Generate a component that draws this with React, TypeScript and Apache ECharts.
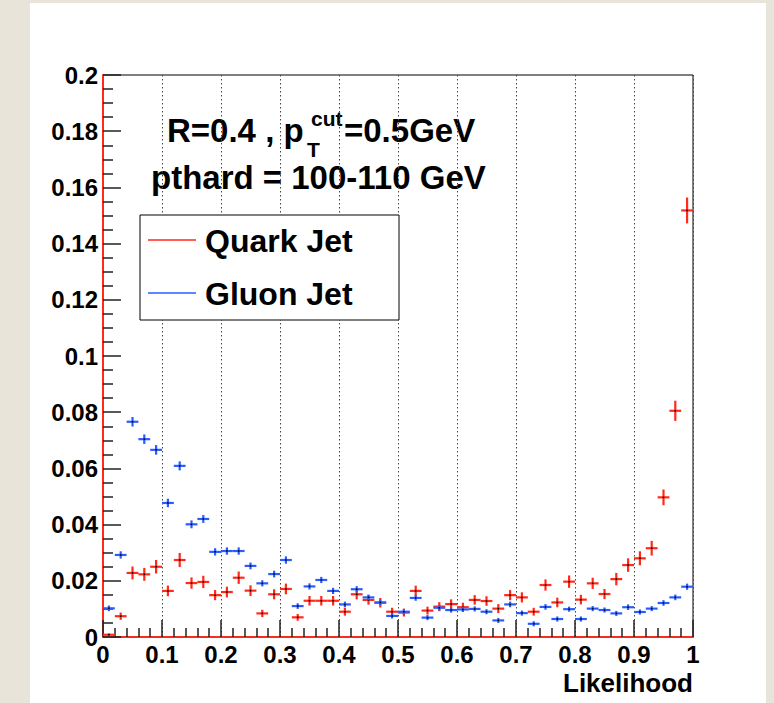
import React, { useEffect, useRef } from "react";
import * as echarts from "echarts";

// Histogram binning: 50 bins on [0, 1]
const BIN_LO = 0;
const BIN_HI = 1;
const BIN_COUNT = 50;

// Normalised histogram contents
const quarkValues = [
  0.0008, 0.0074, 0.0228, 0.0223, 0.025, 0.0164, 0.0274, 0.0192, 0.0196, 0.0149,
  0.016, 0.0211, 0.0165, 0.0084, 0.0152, 0.0171, 0.007, 0.0129, 0.0129, 0.0129,
  0.009, 0.0152, 0.0132, 0.0122, 0.009, 0.0087, 0.0164, 0.0094, 0.0108, 0.0117,
  0.0106, 0.0132, 0.0128, 0.0101, 0.0149, 0.0141, 0.009, 0.0185, 0.0123, 0.0197,
  0.0133, 0.0191, 0.0153, 0.0206, 0.0256, 0.028, 0.0316, 0.0497, 0.0805, 0.1518,
];
const quarkErrors = [
  0.0005, 0.0013, 0.0023, 0.0023, 0.0024, 0.0019, 0.0025, 0.002, 0.0022, 0.0018,
  0.0019, 0.0022, 0.0019, 0.0013, 0.0018, 0.0019, 0.0012, 0.0017, 0.0017, 0.0017,
  0.0014, 0.0018, 0.0017, 0.0017, 0.0014, 0.0014, 0.0019, 0.0014, 0.0016, 0.0017,
  0.0016, 0.0017, 0.0017, 0.0016, 0.0018, 0.0018, 0.0014, 0.002, 0.0017, 0.0022,
  0.0017, 0.002, 0.0018, 0.0022, 0.0024, 0.0025, 0.0026, 0.0028, 0.0036, 0.0046,
];
const gluonValues = [
  0.0102, 0.0292, 0.0766, 0.0704, 0.0666, 0.0477, 0.0609, 0.0401, 0.042, 0.0303,
  0.0306, 0.0306, 0.0253, 0.0191, 0.0224, 0.0274, 0.011, 0.018, 0.0203, 0.0164,
  0.0116, 0.017, 0.0141, 0.0123, 0.0075, 0.009, 0.0139, 0.0069, 0.0104, 0.0096,
  0.0098, 0.01, 0.009, 0.0059, 0.0116, 0.0085, 0.0047, 0.0107, 0.0064, 0.0099,
  0.0064, 0.0101, 0.0096, 0.0084, 0.0106, 0.0089, 0.0101, 0.0121, 0.0141, 0.0179,
];
const gluonErrors = [
  0.001, 0.0013, 0.0017, 0.0017, 0.0017, 0.0015, 0.0016, 0.0014, 0.0014, 0.0013,
  0.0013, 0.0013, 0.0012, 0.0011, 0.0012, 0.0013, 0.001, 0.0011, 0.0011, 0.0011,
  0.001, 0.0011, 0.001, 0.001, 0.0009, 0.0009, 0.001, 0.0009, 0.001, 0.0009,
  0.0009, 0.0009, 0.0009, 0.0009, 0.001, 0.0009, 0.0009, 0.001, 0.0009, 0.0009,
  0.0009, 0.0009, 0.0009, 0.0009, 0.001, 0.0009, 0.0009, 0.001, 0.001, 0.0011,
];

const xTicks = { min: 0, max: 1, interval: 0.1 };
const yTicks = { min: 0, max: 0.2, interval: 0.02 };

const seriesNames = ["Quark Jet", "Gluon Jet"];
const RED = "#ff2a1a";
const BLUE = "#2a5cff";
const FONT = "'Liberation Sans', Arial, Helvetica, sans-serif";

const binWidth = (BIN_HI - BIN_LO) / BIN_COUNT;

function toData(values: number[], errors: number[]) {
  return values.map((v, i) => [BIN_LO + (i + 0.5) * binWidth, v, errors[i]]);
}

function crossRenderer(color: string) {
  return (_params: any, api: any) => {
    const x = api.value(0);
    const y = api.value(1);
    const e = api.value(2);
    const l = api.coord([x - binWidth / 2, y]);
    const r = api.coord([x + binWidth / 2, y]);
    const t = api.coord([x, y + e]);
    const b = api.coord([x, y - e]);
    const c = api.coord([x, y]);
    return {
      type: "group",
      children: [
        { type: "line", shape: { x1: l[0], y1: l[1], x2: r[0], y2: r[1] }, style: { stroke: color, lineWidth: 2.2 } },
        { type: "line", shape: { x1: t[0], y1: t[1], x2: b[0], y2: b[1] }, style: { stroke: color, lineWidth: 2.2 } },
        { type: "rect", shape: { x: c[0] - 0.75, y: c[1] - 0.75, width: 1.5, height: 1.5 }, style: { fill: "#000" } },
      ],
    };
  };
}

const fmt = (v: number) => String(+v.toFixed(3));

export default function App() {
  const ref = useRef<HTMLDivElement>(null);
  useEffect(() => {
    if (!ref.current) return;
    const chart = echarts.init(ref.current, undefined, { renderer: "svg" });
    const gridL = 103, gridT = 75, gridR = 81, gridB = 66;
    const big = { fontFamily: FONT, fontWeight: "bold", fill: "#000", verticalAlign: "middle" };
    const option: any = {
      animation: false,
      backgroundColor: "#e8e4da",
      grid: {
        left: gridL, right: gridR, top: gridT, bottom: gridB,
        show: true, borderColor: "#000", borderWidth: 1, backgroundColor: "#fff",
      },
      xAxis: {
        type: "value",
        min: xTicks.min, max: xTicks.max, interval: xTicks.interval,
        axisLine: { show: true, onZero: false, lineStyle: { color: RED, width: 2 } },
        axisTick: { show: true, inside: true, length: 17, lineStyle: { color: "#222", width: 1.5 } },
        minorTick: { show: true, splitNumber: 5, length: 9, lineStyle: { color: "#222", width: 1.5 } },
        splitLine: { show: true, lineStyle: { color: "#444", type: [1.5, 2.5], width: 1 } },
        axisLabel: { formatter: fmt, fontFamily: FONT, fontWeight: "bold", fontSize: 24, color: "#000", margin: 5 },
      },
      yAxis: [
        {
          type: "value",
          min: yTicks.min, max: yTicks.max, interval: yTicks.interval,
          axisLine: { show: true, onZero: false, lineStyle: { color: "#000", width: 1 } },
          axisTick: { show: true, inside: true, length: 18, lineStyle: { color: "#222", width: 1.5 } },
          minorTick: { show: true, splitNumber: 4, length: 10, lineStyle: { color: "#222", width: 1.5 } },
          splitLine: { show: false },
          axisLabel: { formatter: fmt, fontFamily: FONT, fontWeight: "bold", fontSize: 24, color: "#000", margin: 5 },
        },
        {
          type: "value", position: "right",
          min: yTicks.min, max: yTicks.max, interval: yTicks.interval,
          axisLine: { show: true, lineStyle: { color: RED, width: 2 } },
          axisTick: { show: false }, axisLabel: { show: false }, splitLine: { show: false },
        },
      ],
      series: [
        { name: seriesNames[0], type: "custom", renderItem: crossRenderer(RED), data: toData(quarkValues, quarkErrors), z: 3 },
        { name: seriesNames[1], type: "custom", renderItem: crossRenderer(BLUE), data: toData(gluonValues, gluonErrors), z: 4 },
      ],
      graphic: [
        { type: "rect", z: -10, shape: { x: 30, y: 3, width: 736, height: 700 }, style: { fill: "#fff" } },
        { type: "text", x: 167, y: 130, style: { ...big, text: "R=0.4 , p", fontSize: 33 } },
        { type: "text", x: 311, y: 118, style: { ...big, text: "cut", fontSize: 21 } },
        { type: "text", x: 307, y: 149, style: { ...big, text: "T", fontSize: 21 } },
        { type: "text", x: 344, y: 130, style: { ...big, text: "=0.5GeV", fontSize: 33 } },
        { type: "text", x: 151, y: 177, style: { ...big, text: "pthard = 100-110 GeV", fontSize: 33 } },
        { type: "rect", z: 10, shape: { x: 140, y: 215, width: 259, height: 105 }, style: { fill: "#fff", stroke: "#000", lineWidth: 1 } },
        { type: "line", z: 11, shape: { x1: 148, y1: 240, x2: 196, y2: 240 }, style: { stroke: RED, lineWidth: 1.5 } },
        { type: "text", z: 11, x: 205, y: 241, style: { ...big, text: seriesNames[0], fontSize: 32 } },
        { type: "line", z: 11, shape: { x1: 148, y1: 293, x2: 196, y2: 293 }, style: { stroke: BLUE, lineWidth: 1.5 } },
        { type: "text", z: 11, x: 205, y: 294, style: { ...big, text: seriesNames[1], fontSize: 32 } },
        { type: "text", x: 693, y: 683, style: { ...big, text: "Likelihood", fontSize: 26, align: "right" } },
      ],
    };
    chart.setOption(option);
    return () => chart.dispose();
  }, []);
  return <div ref={ref} style={{ position: "fixed", left: 0, top: 0, width: 774, height: 703 }} />;
}
